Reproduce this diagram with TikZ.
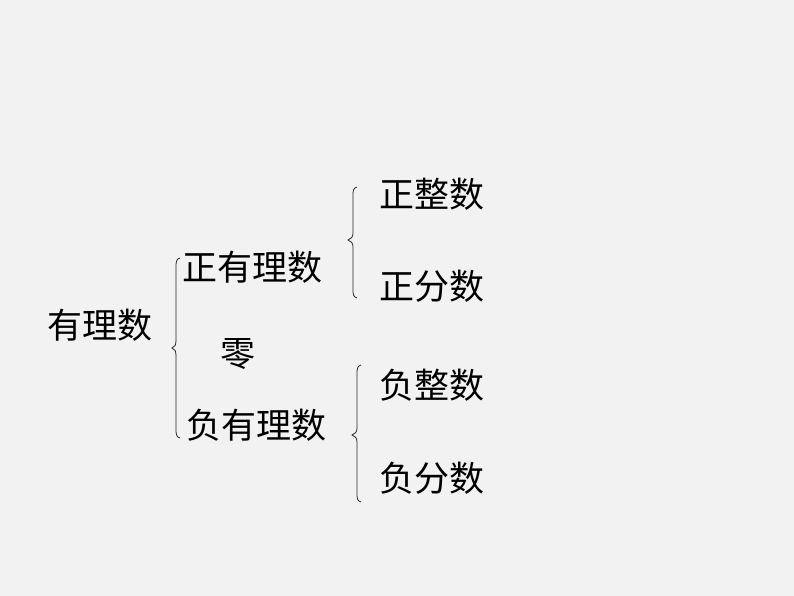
\documentclass[tikz,border=0pt]{standalone}
\usepackage{fontspec}
\newfontfamily\cjk{Noto Sans CJK SC}
\begin{document}
\begin{tikzpicture}[x=1pt,y=-1pt,
  lbl/.style={font=\cjk\fontsize{35}{38}\selectfont, inner sep=0pt, anchor=base},
  brc/.style={draw=black!85, line width=0.8pt}]
\fill[black!5] (0,0) rectangle (794,596);
\useasboundingbox (0,0) rectangle (794,596);
\node[lbl] (root) at (100,338) {有理数};
\node[lbl] (pos) at (252,280) {正有理数};
\node[lbl] (zero) at (238,366) {零};
\node[lbl] (neg) at (256,438) {负有理数};
\node[lbl] (pi) at (432,207) {正整数};
\node[lbl] (pf) at (432,299) {正分数};
\node[lbl] (ni) at (432,398) {负整数};
\node[lbl] (nf) at (432,491) {负分数};
% braces
\coordinate (b1t) at (180,258);
\coordinate (b1m) at (172,348);
\coordinate (b1b) at (180,438);
\draw[brc] (b1t) .. controls (176,259) and (176,262) .. (176,268) -- (176,340) .. controls (176,345) and (175,347) .. (b1m) .. controls (175,349) and (176,351) .. (176,356) -- (176,428) .. controls (176,434) and (176,437) .. (b1b);
\coordinate (b2t) at (357,187);
\coordinate (b2m) at (348,240);
\coordinate (b2b) at (357,298);
\draw[brc] (b2t) .. controls (353,188) and (353,191) .. (353,196) -- (353,233) .. controls (353,237) and (351,239) .. (b2m) .. controls (351,241) and (353,243) .. (353,247) -- (353,289) .. controls (353,294) and (353,297) .. (b2b);
\coordinate (b3t) at (361,365);
\coordinate (b3m) at (352,435);
\coordinate (b3b) at (361,502);
\draw[brc] (b3t) .. controls (357,366) and (357,369) .. (357,375) -- (357,428) .. controls (357,432) and (355,434) .. (b3m) .. controls (355,436) and (357,438) .. (357,442) -- (357,493) .. controls (357,498) and (357,501) .. (b3b);
\end{tikzpicture}
\end{document}
